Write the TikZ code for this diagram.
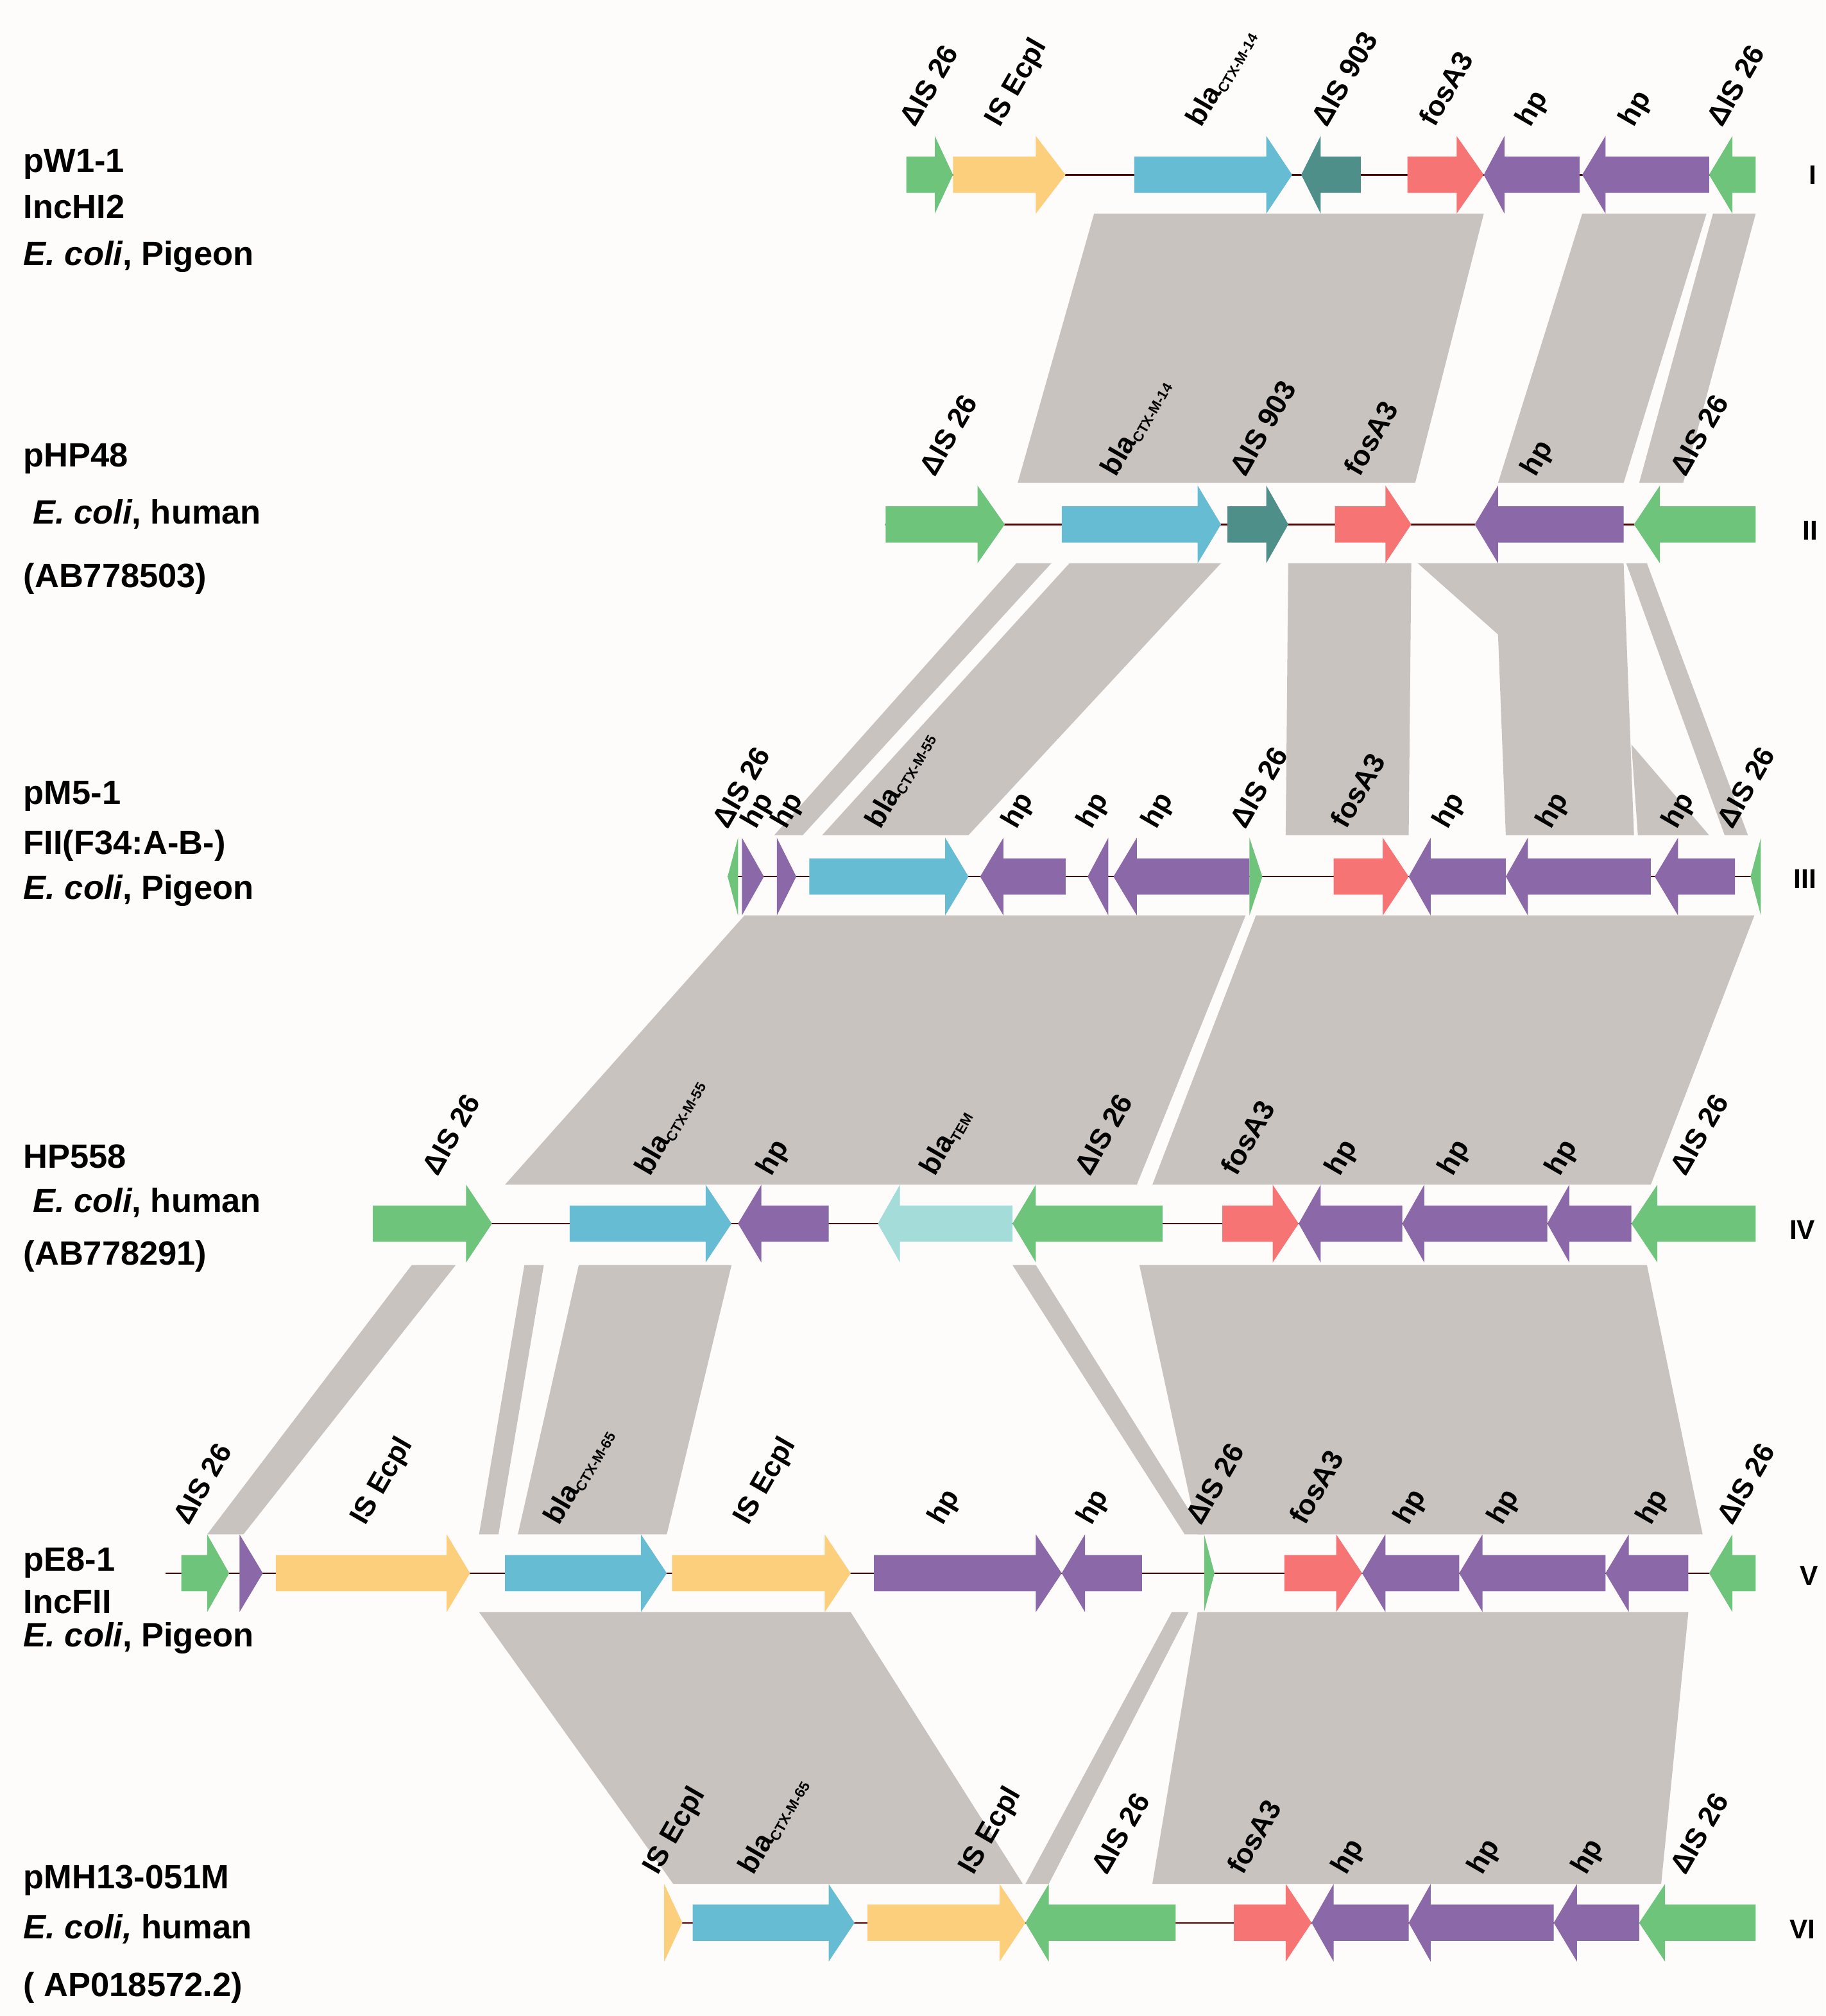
\documentclass[tikz,border=0pt]{standalone}
\usepackage{fontspec}
\setmainfont{Liberation Sans}
\definecolor{cg}{HTML}{6FC47C}\definecolor{cy}{HTML}{FCCF7C}\definecolor{cb}{HTML}{66BCD2}
\definecolor{ct}{HTML}{4E8F8A}\definecolor{cr}{HTML}{F77474}\definecolor{cp}{HTML}{8B69A8}
\definecolor{cl}{HTML}{A3DCD8}\definecolor{cgr}{HTML}{C9C3C0}\definecolor{bg}{HTML}{FDFCFB}
\newcommand{\RA}[5]{\fill[#1] (#2,#5-14)--(#3,#5-14)--(#3,#5-30)--(#4,#5)--(#3,#5+30)--(#3,#5+14)--(#2,#5+14)--cycle;}
\newcommand{\LA}[5]{\fill[#1] (#2,#5)--(#3,#5-30)--(#3,#5-14)--(#4,#5-14)--(#4,#5+14)--(#3,#5+14)--(#3,#5+30)--cycle;}
\newcommand{\RT}[4]{\fill[#1] (#2,#4-30)--(#3,#4)--(#2,#4+30)--cycle;}
\newcommand{\LT}[4]{\fill[#1] (#3,#4-30)--(#2,#4)--(#3,#4+30)--cycle;}
\newcommand{\GL}[3]{\node[glab] at (#1,#2-36) {#3};}
\newcommand{\blx}[1]{bla{\fontsize{11}{11}\selectfont\raisebox{-3pt}{#1}}}
\newcommand{\dIS}{ΔIS 26}
\tikzset{glab/.style={anchor=base west,rotate=60,font=\fontsize{22}{22}\selectfont\bfseries,inner sep=0},
 side/.style={anchor=west,font=\fontsize{26}{26}\selectfont\bfseries,inner sep=0},
 rn/.style={anchor=center,font=\fontsize{21}{21}\selectfont\bfseries},
 band/.style={fill=cgr},bb/.style={draw=black!70!red,line width=1.2pt}}
\begin{document}
\begin{tikzpicture}[x=1pt,y=-1pt]
\fill[bg] (0,0) rectangle (1410,1557);
\useasboundingbox (0,0) rectangle (1410,1557);
% bands I-II
\fill[band] (845,165)--(1146,165)--(1093,373)--(786,373)--cycle;
\fill[band] (1222,165)--(1318,165)--(1254,373)--(1157,373)--cycle;
\fill[band] (1323,165)--(1356,165)--(1300,373)--(1266,373)--cycle;
% II-III
\fill[band] (785,435)--(812,435)--(620,645)--(598,645)--cycle;
\fill[band] (826,435)--(943,435)--(748,645)--(635,645)--cycle;
\fill[band] (995,435)--(1090,435)--(1088,645)--(993,645)--cycle;
\fill[band] (1095,435)--(1254,435)--(1262,645)--(1163,645)--(1157,490)--cycle;
\fill[band] (1256,435)--(1272,435)--(1350,645)--(1332,645)--cycle;
\fill[band] (1260,575)--(1320,645)--(1265,645)--cycle;
% III-IV
\fill[band] (575,707)--(962,707)--(878,915)--(390,915)--cycle;
\fill[band] (970,707)--(1355,707)--(1275,915)--(890,915)--cycle;
% IV-V
\fill[band] (318,977)--(352,977)--(188,1185)--(160,1185)--cycle;
\fill[band] (405,977)--(420,977)--(385,1185)--(370,1185)--cycle;
\fill[band] (447,977)--(565,977)--(515,1185)--(400,1185)--cycle;
\fill[band] (782,977)--(800,977)--(930,1185)--(915,1185)--cycle;
\fill[band] (880,977)--(1272,977)--(1315,1185)--(925,1185)--cycle;
% V-VI
\fill[band] (370,1245)--(657,1245)--(790,1455)--(520,1455)--cycle;
\fill[band] (905,1245)--(918,1245)--(810,1455)--(792,1455)--cycle;
\fill[band] (925,1245)--(1304,1245)--(1283,1455)--(890,1455)--cycle;
% backbone lines
\draw[bb] (700,135)--(1356,135);
\draw[bb] (684,405)--(1356,405);
\draw[bb] (562,677)--(1360,677);
\draw[bb] (288,945)--(1356,945);
\draw[bb] (128,1215)--(1356,1215);
\draw[bb] (513,1485)--(1356,1485);
% row I
\RA{cg}{700}{722}{736}{135}\RA{cy}{736}{800}{823}{135}\RA{cb}{876}{978}{998}{135}
\LA{ct}{1005}{1020}{1051}{135}\RA{cr}{1087}{1125}{1146}{135}\LA{cp}{1146}{1162}{1220}{135}
\LA{cp}{1222}{1240}{1320}{135}\LA{cg}{1320}{1338}{1356}{135}
\GL{707}{135}{\dIS}\GL{772}{135}{IS Ecpl}\GL{928}{135}{\blx{CTX-M-14}}\GL{1025}{135}{ΔIS 903}
\GL{1108}{135}{fosA3}\GL{1182}{135}{hp}\GL{1262}{135}{hp}\GL{1330}{135}{\dIS}
% row II
\RA{cg}{684}{755}{776}{405}\RA{cb}{820}{925}{943}{405}\RA{ct}{948}{978}{995}{405}
\RA{cr}{1031}{1070}{1090}{405}\LA{cp}{1139}{1157}{1254}{405}\LA{cg}{1262}{1282}{1356}{405}
\GL{722}{405}{\dIS}\GL{862}{405}{\blx{CTX-M-14}}\GL{962}{405}{ΔIS 903}\GL{1050}{405}{fosA3}
\GL{1186}{405}{hp}\GL{1302}{405}{\dIS}
% row III
\LT{cg}{562}{570}{677}\RT{cp}{573}{590}{677}\RT{cp}{600}{615}{677}\RA{cb}{625}{730}{748}{677}
\LA{cp}{757}{775}{823}{677}\LT{cp}{840}{856}{677}\LA{cp}{860}{878}{965}{677}\RT{cg}{965}{975}{677}
\RA{cr}{1030}{1068}{1088}{677}\LA{cp}{1088}{1105}{1163}{677}\LA{cp}{1163}{1180}{1275}{677}
\LA{cp}{1278}{1296}{1340}{677}\LT{cg}{1352}{1360}{677}
\GL{562}{677}{\dIS}\GL{584}{677}{hp}\GL{607}{677}{hp}\GL{680}{677}{\blx{CTX-M-55}}
\GL{785}{677}{hp}\GL{843}{677}{hp}\GL{893}{677}{hp}\GL{962}{677}{\dIS}\GL{1040}{677}{fosA3}
\GL{1118}{677}{hp}\GL{1198}{677}{hp}\GL{1295}{677}{hp}\GL{1338}{677}{\dIS}
% row IV
\RA{cg}{288}{360}{380}{945}\RA{cb}{440}{545}{565}{945}\LA{cp}{570}{588}{640}{945}
\LA{cl}{678}{695}{782}{945}\LA{cg}{782}{800}{898}{945}\RA{cr}{944}{983}{1003}{945}
\LA{cp}{1003}{1020}{1083}{945}\LA{cp}{1083}{1100}{1195}{945}\LA{cp}{1195}{1212}{1260}{945}
\LA{cg}{1260}{1280}{1356}{945}
\GL{338}{945}{\dIS}\GL{502}{945}{\blx{CTX-M-55}}\GL{596}{945}{hp}\GL{722}{945}{\blx{TEM}}
\GL{842}{945}{\dIS}\GL{955}{945}{fosA3}\GL{1035}{945}{hp}\GL{1122}{945}{hp}\GL{1205}{945}{hp}
\GL{1302}{945}{\dIS}
% row V
\RA{cg}{140}{160}{177}{1215}\RT{cp}{185}{203}{1215}\RA{cy}{213}{345}{363}{1215}
\RA{cb}{390}{495}{515}{1215}\RA{cy}{519}{637}{657}{1215}\RA{cp}{675}{800}{820}{1215}
\LA{cp}{820}{838}{882}{1215}\RT{cg}{930}{938}{1215}\RA{cr}{992}{1032}{1052}{1215}
\LA{cp}{1052}{1070}{1127}{1215}\LA{cp}{1127}{1145}{1240}{1215}\LA{cp}{1240}{1258}{1304}{1215}
\LA{cg}{1320}{1338}{1356}{1215}
\GL{146}{1215}{\dIS}\GL{282}{1215}{IS Ecpl}\GL{432}{1215}{\blx{CTX-M-65}}\GL{578}{1215}{IS Ecpl}
\GL{728}{1215}{hp}\GL{843}{1215}{hp}\GL{928}{1215}{\dIS}\GL{1008}{1215}{fosA3}\GL{1088}{1215}{hp}
\GL{1160}{1215}{hp}\GL{1275}{1215}{hp}\GL{1338}{1215}{\dIS}
% row VI
\RT{cy}{513}{527}{1485}\RA{cb}{535}{640}{660}{1485}\RA{cy}{670}{772}{792}{1485}
\LA{cg}{792}{810}{908}{1485}\RA{cr}{953}{993}{1013}{1485}\LA{cp}{1013}{1030}{1088}{1485}
\LA{cp}{1088}{1105}{1200}{1485}\LA{cp}{1200}{1218}{1266}{1485}\LA{cg}{1266}{1286}{1356}{1485}
\GL{508}{1485}{IS Ecpl}\GL{582}{1485}{\blx{CTX-M-65}}\GL{752}{1485}{IS Ecpl}\GL{855}{1485}{\dIS}
\GL{960}{1485}{fosA3}\GL{1040}{1485}{hp}\GL{1145}{1485}{hp}\GL{1225}{1485}{hp}\GL{1302}{1485}{\dIS}
% roman numerals
\node[rn] (r1) at (1400,135) {I};\node[rn] (r2) at (1398,410) {II};\node[rn] (r3) at (1394,679) {III};
\node[rn] (r4) at (1392,950) {IV};\node[rn] (r5) at (1397,1217) {V};\node[rn] (r6) at (1392,1490) {VI};
% side labels
\node[side] at (18,127) {pW1-1};\node[side] at (18,160) {IncHI2};\node[side] at (18,198) {\textit{E. coli}, Pigeon};
\node[side] at (18,354) {pHP48};\node[side] at (18,397) {\ \textit{E. coli}, human};\node[side] at (18,447) {(AB778503)};
\node[side] at (18,615) {pM5-1};\node[side] at (18,653) {FII(F34:A-B-)};\node[side] at (18,688) {\textit{E. coli}, Pigeon};
\node[side] at (18,893) {HP558};\node[side] at (18,929) {\ \textit{E. coli}, human};\node[side] at (18,970) {(AB778291)};
\node[side] at (18,1207) {pE8-1};\node[side] at (18,1237) {IncFII};\node[side] at (18,1265) {\textit{E. coli}, Pigeon};
\node[side] at (18,1452) {pMH13-051M};\node[side] at (18,1490) {\textit{E. coli,} human};\node[side] at (18,1535) {( AP018572.2)};
\end{tikzpicture}
\end{document}
